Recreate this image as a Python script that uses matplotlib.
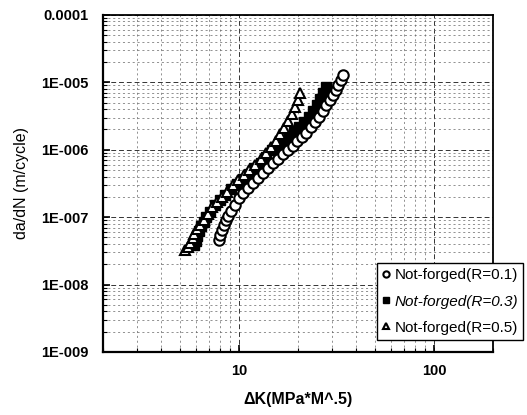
import numpy as np
import matplotlib
matplotlib.use('Agg')
import matplotlib.pyplot as plt
from matplotlib.ticker import FixedLocator, FixedFormatter, LogLocator, NullFormatter

# R = 0.1, open circles
dk_r01 = [7.9, 8.0, 8.2, 8.4, 8.6, 8.8, 9.1, 9.5, 10.0, 10.5, 11.1, 11.8, 12.5, 13.2, 14.0, 14.9, 15.8,
          16.8, 17.8, 18.8, 19.9, 21.0, 22.1, 23.3, 24.5, 25.7, 26.9, 28.0, 29.1, 30.2, 31.3, 32.3, 33.3, 34.2]
da_r01 = [4.6e-8, 5.5e-8, 6.5e-8, 7.7e-8, 9.0e-8, 1.05e-7, 1.25e-7, 1.5e-7, 1.9e-7, 2.3e-7, 2.7e-7, 3.2e-7,
          3.8e-7, 4.5e-7, 5.4e-7, 6.3e-7, 7.3e-7, 8.5e-7, 9.8e-7, 1.15e-6, 1.35e-6, 1.55e-6, 1.8e-6, 2.2e-6,
          2.6e-6, 3.1e-6, 3.8e-6, 4.6e-6, 5.4e-6, 6.4e-6, 7.6e-6, 9.0e-6, 1.08e-5, 1.28e-5]

# R = 0.3, filled squares
dk_r03 = [5.9, 6.0, 6.1, 6.2, 6.4, 6.6, 6.8, 7.1, 7.5, 8.0, 8.5, 9.1, 9.8, 10.5, 11.2, 12.0, 12.9, 13.8,
          14.8, 15.8, 16.9, 18.0, 19.2, 20.4, 21.6, 22.8, 24.0, 25.1, 26.1, 27.0, 27.8]
da_r03 = [3.8e-8, 4.5e-8, 5.3e-8, 6.2e-8, 7.3e-8, 8.6e-8, 1.0e-7, 1.2e-7, 1.5e-7, 1.8e-7, 2.1e-7, 2.6e-7,
          3.1e-7, 3.7e-7, 4.4e-7, 5.3e-7, 6.4e-7, 7.8e-7, 9.8e-7, 1.15e-6, 1.35e-6, 1.55e-6, 1.85e-6,
          2.2e-6, 2.6e-6, 3.1e-6, 3.7e-6, 4.6e-6, 5.7e-6, 7.0e-6, 8.6e-6]

# R = 0.5, open triangles
dk_r05 = [5.3, 5.5, 5.6, 5.8, 5.9, 6.1, 6.3, 6.6, 6.9, 7.3, 7.7, 8.2, 8.7, 9.3, 9.9, 10.6, 11.3, 12.1,
          12.9, 13.8, 14.6, 15.4, 16.2, 17.0, 17.8, 18.6, 19.4, 20.1, 20.6]
da_r05 = [3.3e-8, 3.6e-8, 4.2e-8, 4.9e-8, 5.6e-8, 6.6e-8, 7.6e-8, 9.0e-8, 1.1e-7, 1.4e-7, 1.7e-7, 2.0e-7,
          2.4e-7, 3.0e-7, 3.6e-7, 4.2e-7, 5.0e-7, 6.0e-7, 7.2e-7, 8.8e-7, 1.1e-6, 1.35e-6, 1.7e-6, 2.1e-6,
          2.7e-6, 3.4e-6, 4.3e-6, 5.5e-6, 7.0e-6]

labels = ['Not-forged(R=0.1)', 'Not-forged(R=0.3)', 'Not-forged(R=0.5)']
y_ticks = [1e-9, 1e-8, 1e-7, 1e-6, 1e-5, 1e-4]
y_labels = ['1E-009', '1E-008', '1E-007', '1E-006', '1E-005', '0.0001']
x_ticks = [10, 100]
x_labels = ['10', '100']

plt.rcParams['font.family'] = ['Liberation Sans', 'DejaVu Sans']

fig = plt.figure(figsize=(5.27, 4.15), dpi=100)
ax = fig.add_axes([0.195, 0.152, 0.74, 0.812])
ax.set_xscale('log')
ax.set_yscale('log')
ax.set_xlim(2, 200)
ax.set_ylim(1e-9, 1e-4)

ax.plot(dk_r03, da_r03, linestyle='none', marker='s', ms=6.5, mfc='black', mec='black', mew=1.0,
        label=labels[1], zorder=3)
ax.plot(dk_r05, da_r05, linestyle='none', marker='^', ms=7.5, mfc='white', mec='black', mew=1.5,
        label=labels[2], zorder=4)
ax.plot(dk_r01, da_r01, linestyle='none', marker='o', ms=7.5, mfc='white', mec='black', mew=1.5,
        label=labels[0], zorder=5)

ax.yaxis.set_major_locator(FixedLocator(y_ticks))
ax.yaxis.set_major_formatter(FixedFormatter(y_labels))
ax.yaxis.set_minor_locator(LogLocator(base=10, subs=np.arange(2, 10), numticks=20))
ax.yaxis.set_minor_formatter(NullFormatter())
ax.xaxis.set_major_locator(FixedLocator(x_ticks))
ax.xaxis.set_major_formatter(FixedFormatter(x_labels))
ax.xaxis.set_minor_locator(LogLocator(base=10, subs=np.arange(2, 10), numticks=20))
ax.xaxis.set_minor_formatter(NullFormatter())

ax.tick_params(which='both', direction='in', colors='black', labelsize=10.5)
ax.tick_params(which='major', length=5, width=1.2)
ax.tick_params(which='minor', length=3, width=0.8)
ax.tick_params(axis='y', pad=10)
ax.tick_params(axis='x', pad=9)
for lab in ax.get_xticklabels() + ax.get_yticklabels():
    lab.set_fontweight('bold')

ax.grid(which='major', color='0.2', linestyle=(0, (5, 3)), linewidth=0.7)
ax.grid(which='minor', color='0.4', linestyle=(0, (3, 4)), linewidth=0.5)
ax.set_axisbelow(True)

for side in ['left', 'bottom']:
    ax.spines[side].set_linewidth(1.6)
for side in ['top', 'right']:
    ax.spines[side].set_linewidth(1.3)

ax.set_xlabel('ΔK(MPa*M^.5)', fontsize=11.5, fontweight='bold', labelpad=10)
ax.set_ylabel('da/dN (m/cycle)', fontsize=11.5, labelpad=9)

h, l = ax.get_legend_handles_labels()
order = [2, 0, 1]
leg = ax.legend([h[i] for i in order], [l[i] for i in order], loc='lower left',
                bbox_to_anchor=(0.703, 0.035), frameon=True, fancybox=False, framealpha=1,
                edgecolor='black', markerscale=0.6, handlelength=0.5, handletextpad=0.3,
                borderpad=0.35, labelspacing=0.8, borderaxespad=0,
                prop={'size': 11})
leg.get_frame().set_linewidth(1.0)
leg.texts[1].set_fontstyle('italic')
leg.set_zorder(10)

fig.savefig('out.png', dpi=100)
